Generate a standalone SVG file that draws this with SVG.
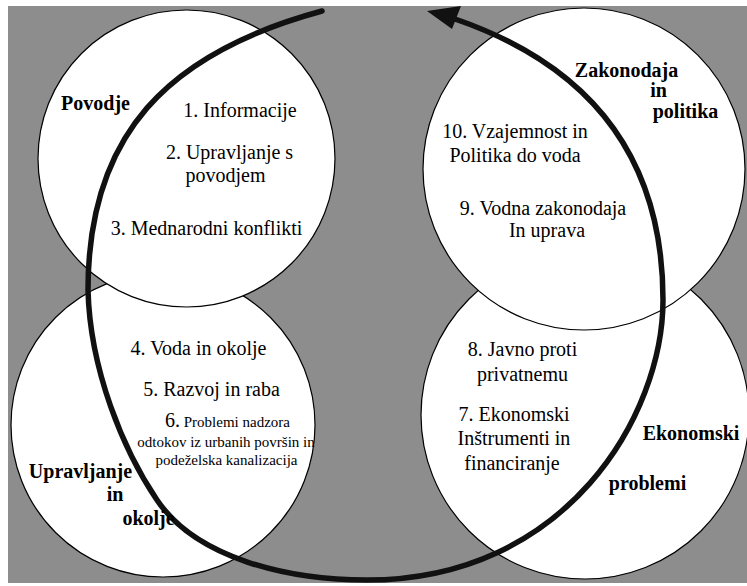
<svg xmlns="http://www.w3.org/2000/svg" width="747" height="586" viewBox="0 0 747 586">
<style>
.c{fill:#fff;stroke:#000;stroke-width:1.2}
.t{font-family:"Liberation Serif","Times New Roman",serif;font-size:20px;fill:#000;text-anchor:middle}
.b{font-weight:bold}
.s{font-size:15px}
.arrow{fill:none;stroke:#111;stroke-width:5.5;stroke-linecap:round}
</style>
<rect x="8" y="6" width="739" height="577" fill="#8d8d8d"/>
<g id="node-upravljanje">
<circle class="c" cx="163" cy="425" r="152"/>
</g>
<g id="node-ekonomski">
<circle class="c" cx="585" cy="415" r="164"/>
</g>
<g id="node-povodje">
<circle class="c" cx="186.5" cy="158.5" r="148.5"/>
</g>
<g id="node-zakonodaja">
<circle class="c" cx="584" cy="169" r="161"/>
</g>
<g id="connectors">
<path class="arrow" d="M322,11 C167,53 88,135 88,290 C90,370 123.4,450.2 157,500 C196.2,558.1 287,580 367,580 C567,580 663,415 663,300 C663,145 577,61 455,19"/>
<polygon points="427,11 461,6 452,29" fill="#111"/>
</g>
<g id="labels-povodje">
<text class="t b" x="95.5" y="110">Povodje</text>
<text class="t" x="240" y="117">1. Informacije</text>
<text class="t" x="229.5" y="159">2. Upravljanje s</text>
<text class="t" x="225.5" y="182">povodjem</text>
<text class="t" x="206.5" y="235">3. Mednarodni konflikti</text>
</g>
<g id="labels-zakonodaja">
<text class="t b" x="626.5" y="77">Zakonodaja</text>
<text class="t b" x="658.5" y="97">in</text>
<text class="t b" x="685.5" y="118">politika</text>
<text class="t" x="515" y="138">10. Vzajemnost in</text>
<text class="t" x="515" y="162">Politika do voda</text>
<text class="t" x="543" y="215">9. Vodna zakonodaja</text>
<text class="t" x="547" y="237">In uprava</text>
</g>
<g id="labels-upravljanje">
<text class="t" x="198.5" y="355">4. Voda in okolje</text>
<text class="t" x="211.5" y="396">5. Razvoj in raba</text>
<text class="t" x="227.5" y="427">6.<tspan class="s"> Problemi nadzora</tspan></text>
<text class="t s" x="226" y="447">odtokov iz urbanih površin in</text>
<text class="t s" x="226.5" y="465">podeželska kanalizacija</text>
<text class="t b" x="80.5" y="478">Upravljanje</text>
<text class="t b" x="115" y="501">in</text>
<text class="t b" x="148.5" y="525">okolje</text>
</g>
<g id="labels-ekonomski">
<text class="t" x="522.5" y="356">8. Javno proti</text>
<text class="t" x="522.5" y="381">privatnemu</text>
<text class="t" x="514" y="421">7. Ekonomski</text>
<text class="t" x="514" y="445">Inštrumenti in</text>
<text class="t" x="512" y="470">financiranje</text>
<text class="t b" x="691" y="440">Ekonomski</text>
<text class="t b" x="647.5" y="490">problemi</text>
</g>
</svg>
